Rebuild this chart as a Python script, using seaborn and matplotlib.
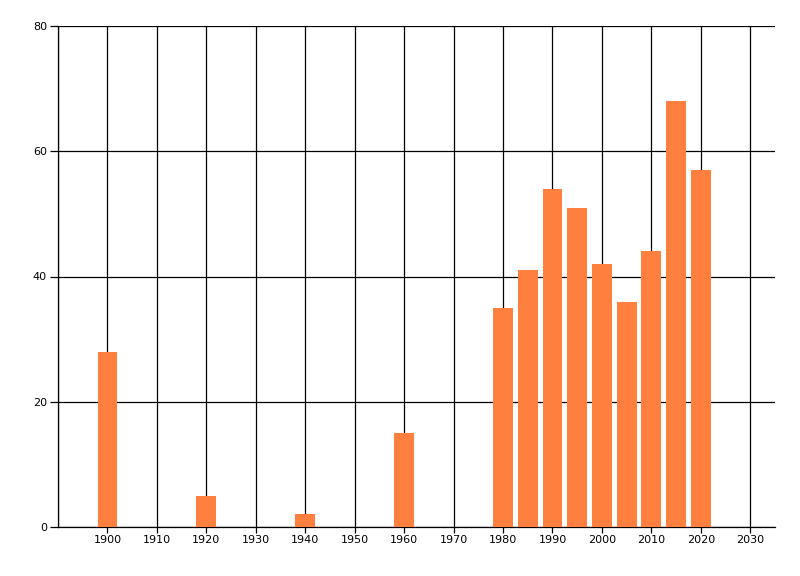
import numpy as np
import pandas as pd
import matplotlib
matplotlib.use("Agg")
import matplotlib.pyplot as plt
import seaborn as sns

years = [1900, 1920, 1940, 1960, 1980, 1985, 1990, 1995, 2000, 2005, 2010, 2015, 2020]
counts = [28, 5, 2, 15, 35, 41, 54, 51, 42, 36, 44, 68, 57]
x_ticks = list(range(1900, 2031, 10))
y_ticks = [0, 20, 40, 60, 80]

sns.set_style("white")
plt.rcParams["font.family"] = ["DejaVu Sans"]

df = pd.DataFrame({"year": years, "count": counts})

fig = plt.figure(figsize=(8, 5.76), dpi=100)
ax = fig.add_axes([58 / 800, 1 - 527 / 576, (775 - 58) / 800, (527 - 26) / 576])

sns.barplot(data=df, x="year", y="count", native_scale=True, width=0.8,
            color="#FF7F3F", saturation=1, linewidth=0, edgecolor="none",
            ax=ax, zorder=3)

ax.set_xlim(1890, 2035)
ax.set_ylim(0, 80)
ax.set_xticks(x_ticks)
ax.set_yticks(y_ticks)
ax.set_xlabel("")
ax.set_ylabel("")

lw = 0.9
ax.grid(True, color="black", linewidth=lw)
ax.set_axisbelow(True)
ax.axvline(1890, color="black", linewidth=lw, zorder=1)
for s in ["top", "right"]:
    ax.spines[s].set_visible(False)
ax.spines["left"].set_color("black")
ax.spines["bottom"].set_color("black")
ax.spines["left"].set_linewidth(lw)
ax.spines["bottom"].set_linewidth(lw)
ax.tick_params(axis="x", length=4, width=lw, color="black", labelcolor="black",
               labelsize=8, pad=2, bottom=True)
ax.tick_params(axis="y", length=6, width=lw, color="black", labelcolor="black",
               labelsize=8, pad=2, left=True)

fig.savefig("out.png", dpi=100)
